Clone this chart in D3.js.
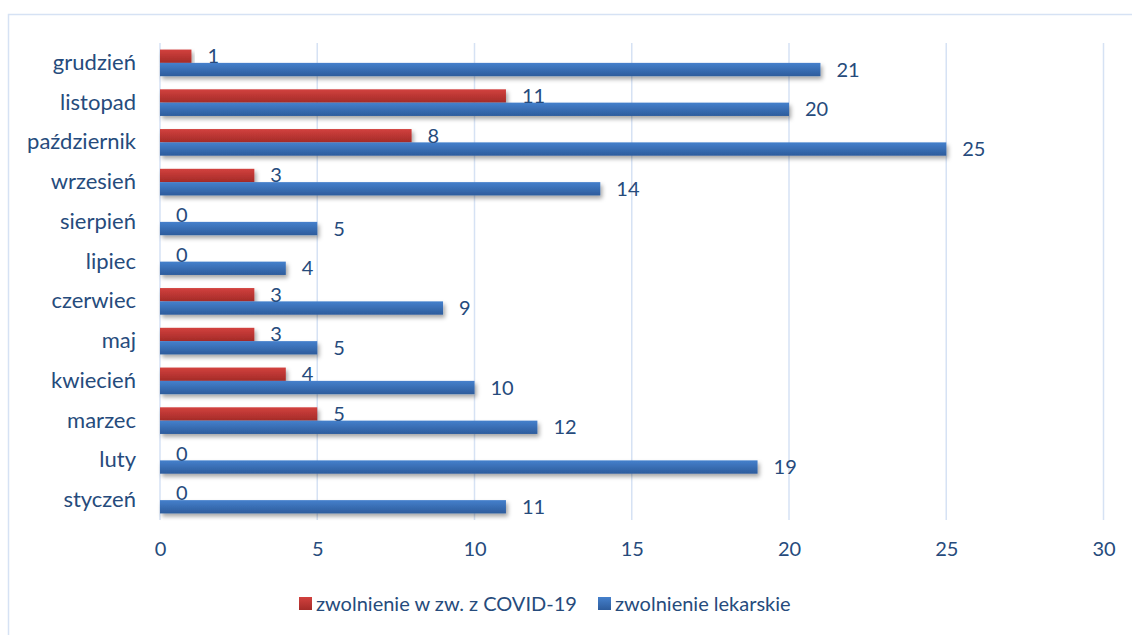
<!DOCTYPE html>
<html><head><meta charset="utf-8">
<script src="https://cdn.jsdelivr.net/npm/d3@7"></script>
<style>body{margin:0;background:#fff}svg{display:block}text{font-family:Lato,"Open Sans",sans-serif;fill:#264B7C}</style>
</head><body>
<script>
const categories = ["grudzień","listopad","październik","wrzesień","sierpień","lipiec","czerwiec","maj","kwiecień","marzec","luty","styczeń"];
const covidValues = [1,11,8,3,0,0,3,3,4,5,0,0];
const sickValues  = [21,20,25,14,5,4,9,5,10,12,19,11];
const seriesNames = ["zwolnienie w zw. z COVID-19","zwolnienie lekarskie"];
const xTicks = [0,5,10,15,20,25,30];

const W=1132,H=635;
const svg=d3.select("body").append("svg").attr("width",W).attr("height",H);
const defs=svg.append("defs");
function grad(id,c1,c2){const g=defs.append("linearGradient").attr("id",id).attr("x1",0).attr("y1",0).attr("x2",0).attr("y2",1);
 g.append("stop").attr("offset","0%").attr("stop-color",c1);g.append("stop").attr("offset","100%").attr("stop-color",c2);}
grad("gRed","#D2413E","#A42B28");
grad("gBlue","#4580CC","#2D5C9C");
const f=defs.append("filter").attr("id","sh").attr("x","-5%").attr("y","-50%").attr("width","115%").attr("height","250%");
f.append("feDropShadow").attr("dx",2).attr("dy",3).attr("stdDeviation",2).attr("flood-color","#000").attr("flood-opacity",0.35);

svg.append("rect").attr("x",8.5).attr("y",14.5).attr("width",1140).attr("height",640).attr("fill","none").attr("stroke","#D6E2F4").attr("stroke-width",1.5);

const x=d3.scaleLinear().domain([0,30]).range([160,1103.5]);
const y=d3.scaleBand().domain(categories).range([43,520]).paddingInner(0.33).paddingOuter(0.165);
const ys=d3.scaleBand().domain(["c","s"]).range([0,y.bandwidth()]);

// grid
svg.append("g").selectAll("line").data(xTicks).join("line")
 .attr("x1",d=>x(d)).attr("x2",d=>x(d)).attr("y1",43).attr("y2",520)
 .attr("stroke","#D6E2F4").attr("stroke-width",1.5);

// x axis labels
const xa=svg.append("g").attr("transform","translate(0,520)")
 .call(d3.axisBottom(x).tickValues(xTicks).tickSize(0).tickPadding(22));
xa.select(".domain").remove();
xa.selectAll("text").attr("font-size",20).attr("fill","#264B7C").style("font-family","Lato, sans-serif");

// y axis labels
const ya=svg.append("g").attr("transform","translate(160,0)")
 .call(d3.axisLeft(y).tickSize(0).tickPadding(24));
ya.select(".domain").remove();
ya.selectAll("text").attr("font-size",22).attr("fill","#264B7C").style("font-family","Lato, sans-serif");

const data=categories.map((c,i)=>({cat:c,c:covidValues[i],s:sickValues[i]}));
const series=[{k:"c",fill:"url(#gRed)"},{k:"s",fill:"url(#gBlue)"}];
series.forEach(se=>{
 const g=svg.append("g");
 g.selectAll("rect").data(data).join("rect")
  .attr("x",x(0)).attr("y",d=>y(d.cat)+ys(se.k))
  .attr("width",d=>x(d[se.k])-x(0)).attr("height",ys.bandwidth())
  .attr("fill",se.fill).attr("filter",d=>d[se.k]>0?"url(#sh)":null);
});
series.forEach(se=>{
 svg.append("g").selectAll("text").data(data).join("text")
  .attr("x",d=>x(d[se.k])+16).attr("y",d=>y(d.cat)+ys(se.k)+ys.bandwidth()/2)
  .attr("dy","0.35em").attr("font-size",20).text(d=>d[se.k]);
});

// legend
const leg=[{n:seriesNames[0],fill:"url(#gRed)",x:299},{n:seriesNames[1],fill:"url(#gBlue)",x:598}];
const lg=svg.append("g");
leg.forEach(l=>{
 lg.append("rect").attr("x",l.x).attr("y",597).attr("width",13).attr("height",13).attr("fill",l.fill);
 lg.append("text").attr("x",l.x+17).attr("y",604).attr("dy","0.35em").attr("font-size",20).text(l.n);
});
</script>
</body></html>
